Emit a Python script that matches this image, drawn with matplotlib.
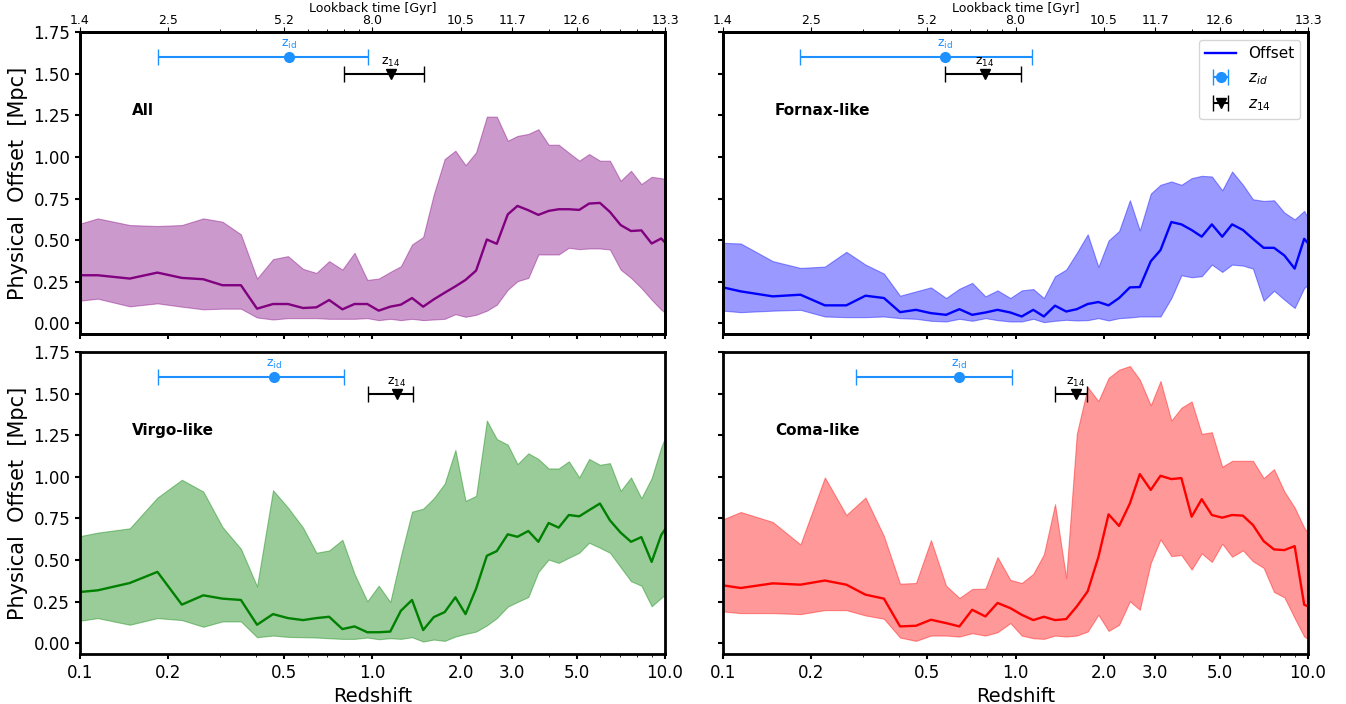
import numpy as np
import matplotlib
matplotlib.use("Agg")
import matplotlib.pyplot as plt
from matplotlib.ticker import FixedLocator, FixedFormatter, NullFormatter

# snapshot redshifts (shared by all panels)
redshift = [0.1, 0.115, 0.148, 0.184, 0.223, 0.264, 0.307, 0.355, 0.403, 0.457,
            0.514, 0.579, 0.643, 0.711, 0.789, 0.868, 0.96, 1.05, 1.15, 1.25,
            1.365, 1.49, 1.62, 1.765, 1.92, 2.08, 2.26, 2.46, 2.66, 2.9,
            3.13, 3.41, 3.69, 4.0, 4.33, 4.69, 5.09, 5.5, 5.99, 6.48,
            7.05, 7.65, 8.3, 9.0, 9.7, 10.6]

all_mid = [0.289, 0.289, 0.269, 0.305, 0.273, 0.265, 0.229, 0.229, 0.088, 0.116,
           0.116, 0.092, 0.096, 0.14, 0.084, 0.116, 0.116, 0.076, 0.10, 0.112,
           0.152, 0.10, 0.144, 0.184, 0.222, 0.261, 0.317, 0.504, 0.478, 0.655,
           0.706, 0.68, 0.652, 0.676, 0.686, 0.686, 0.682, 0.72, 0.724, 0.67,
           0.591, 0.555, 0.559, 0.48, 0.51, 0.44]
all_hi = [0.599, 0.631, 0.591, 0.585, 0.591, 0.631, 0.611, 0.535, 0.269, 0.386,
          0.404, 0.327, 0.303, 0.374, 0.323, 0.424, 0.261, 0.269, 0.309, 0.343,
          0.474, 0.519, 0.776, 0.988, 1.038, 0.951, 1.028, 1.243, 1.243, 1.098,
          1.127, 1.139, 1.167, 1.074, 1.074, 1.026, 0.978, 1.018, 0.978, 0.978,
          0.857, 0.917, 0.837, 0.881, 0.873, 0.86]
all_lo = [0.136, 0.148, 0.102, 0.12, 0.1, 0.084, 0.088, 0.088, 0.035, 0.023,
          0.031, 0.031, 0.031, 0.027, 0.027, 0.027, 0.031, 0.019, 0.027, 0.019,
          0.027, 0.019, 0.023, 0.027, 0.055, 0.039, 0.051, 0.076, 0.112, 0.202,
          0.253, 0.273, 0.414, 0.414, 0.414, 0.454, 0.446, 0.45, 0.45, 0.444,
          0.323, 0.273, 0.212, 0.142, 0.082, 0.03]

fornax_mid = [0.216, 0.192, 0.162, 0.172, 0.108, 0.108, 0.166, 0.152, 0.067, 0.081,
              0.061, 0.051, 0.085, 0.051, 0.065, 0.081, 0.065, 0.041, 0.081, 0.041,
              0.106, 0.071, 0.085, 0.116, 0.128, 0.108, 0.152, 0.216, 0.218, 0.373,
              0.44, 0.609, 0.595, 0.561, 0.521, 0.595, 0.521, 0.595, 0.561, 0.508,
              0.454, 0.454, 0.408, 0.329, 0.508, 0.43]
fornax_hi = [0.484, 0.48, 0.374, 0.333, 0.341, 0.43, 0.353, 0.299, 0.166, 0.192,
             0.216, 0.152, 0.208, 0.243, 0.162, 0.198, 0.152, 0.198, 0.206, 0.152,
             0.283, 0.323, 0.424, 0.535, 0.339, 0.498, 0.555, 0.74, 0.559, 0.78,
             0.833, 0.853, 0.833, 0.873, 0.887, 0.883, 0.8, 0.913, 0.833, 0.746,
             0.736, 0.74, 0.666, 0.625, 0.676, 0.55]
fornax_lo = [0.076, 0.067, 0.076, 0.081, 0.041, 0.037, 0.037, 0.041, 0.031, 0.027,
             0.015, 0.011, 0.027, 0.015, 0.031, 0.019, 0.011, 0.011, 0.027, 0.007,
             0.015, 0.021, 0.017, 0.019, 0.031, 0.017, 0.031, 0.035, 0.041, 0.041,
             0.041, 0.152, 0.289, 0.277, 0.283, 0.353, 0.309, 0.353, 0.347, 0.329,
             0.136, 0.196, 0.142, 0.092, 0.212, 0.27]

virgo_mid = [0.308, 0.318, 0.362, 0.429, 0.232, 0.288, 0.268, 0.26, 0.111, 0.175,
             0.151, 0.139, 0.151, 0.159, 0.085, 0.101, 0.066, 0.066, 0.07, 0.195,
             0.26, 0.079, 0.157, 0.187, 0.276, 0.175, 0.328, 0.526, 0.554, 0.655,
             0.64, 0.675, 0.61, 0.723, 0.695, 0.771, 0.763, 0.8, 0.84, 0.739,
             0.665, 0.61, 0.638, 0.489, 0.65, 0.75]
virgo_hi = [0.644, 0.665, 0.691, 0.876, 0.983, 0.912, 0.699, 0.568, 0.342, 0.92,
            0.816, 0.695, 0.544, 0.558, 0.622, 0.417, 0.252, 0.346, 0.248, 0.524,
            0.791, 0.809, 0.872, 0.96, 1.162, 0.856, 0.886, 1.339, 1.228, 1.194,
            1.077, 1.142, 1.108, 1.051, 1.051, 1.094, 0.997, 1.108, 1.073, 1.083,
            0.916, 0.997, 0.872, 0.993, 1.178, 1.35]
virgo_lo = [0.135, 0.151, 0.111, 0.151, 0.139, 0.099, 0.131, 0.131, 0.036, 0.046,
            0.038, 0.036, 0.034, 0.03, 0.026, 0.026, 0.034, 0.024, 0.03, 0.026,
            0.036, 0.01, 0.022, 0.014, 0.04, 0.056, 0.07, 0.107, 0.151, 0.22,
            0.248, 0.278, 0.429, 0.503, 0.483, 0.514, 0.544, 0.604, 0.574, 0.544,
            0.457, 0.373, 0.346, 0.222, 0.272, 0.33]

coma_mid = [0.348, 0.332, 0.36, 0.352, 0.377, 0.352, 0.292, 0.268, 0.101, 0.105,
            0.141, 0.121, 0.101, 0.201, 0.161, 0.242, 0.211, 0.171, 0.139, 0.159,
            0.139, 0.145, 0.221, 0.312, 0.518, 0.775, 0.705, 0.84, 1.017, 0.922,
            1.007, 0.987, 0.993, 0.761, 0.866, 0.771, 0.755, 0.771, 0.767, 0.711,
            0.614, 0.564, 0.56, 0.584, 0.232, 0.2]
coma_hi = [0.745, 0.789, 0.729, 0.594, 0.997, 0.771, 0.876, 0.644, 0.358, 0.362,
           0.62, 0.346, 0.272, 0.326, 0.328, 0.518, 0.381, 0.362, 0.417, 0.534,
           0.836, 0.393, 1.259, 1.54, 1.456, 1.595, 1.645, 1.667, 1.585, 1.43,
           1.577, 1.339, 1.416, 1.454, 1.259, 1.269, 1.061, 1.097, 1.097, 1.097,
           0.993, 1.047, 0.912, 0.816, 0.695, 0.6]
coma_lo = [0.191, 0.181, 0.181, 0.175, 0.199, 0.199, 0.167, 0.147, 0.034, 0.014,
           0.046, 0.046, 0.04, 0.06, 0.046, 0.066, 0.121, 0.046, 0.03, 0.026,
           0.046, 0.04, 0.046, 0.07, 0.171, 0.074, 0.111, 0.252, 0.201, 0.483,
           0.624, 0.524, 0.53, 0.443, 0.54, 0.489, 0.598, 0.52, 0.558, 0.493,
           0.453, 0.308, 0.276, 0.151, 0.04, 0.0]

# z_id / z_14 markers: (value, low, high)
z_id = {"All": (0.518, 0.185, 0.965), "Fornax-like": (0.576, 0.184, 1.14),
        "Virgo-like": (0.46, 0.185, 0.796), "Coma-like": (0.639, 0.285, 0.973)}
z_14 = {"All": (1.157, 0.796, 1.50), "Fornax-like": (0.786, 0.576, 1.042),
        "Virgo-like": (1.21, 0.965, 1.38), "Coma-like": (1.61, 1.364, 1.76)}

z_ticks = [0.1, 0.2, 0.5, 1.0, 2.0, 3.0, 5.0, 10.0]
z_tick_labels = ["0.1", "0.2", "0.5", "1.0", "2.0", "3.0", "5.0", "10.0"]
lookback_labels = ["1.4", "2.5", "5.2", "8.0", "10.5", "11.7", "12.6", "13.3"]

panels = [("All", all_mid, all_lo, all_hi, "purple"),
          ("Fornax-like", fornax_mid, fornax_lo, fornax_hi, "blue"),
          ("Virgo-like", virgo_mid, virgo_lo, virgo_hi, "green"),
          ("Coma-like", coma_mid, coma_lo, coma_hi, "red")]

fig, axes = plt.subplots(2, 2, figsize=(13.46, 7.04), dpi=100, sharex=True, sharey=True)
fig.subplots_adjust(left=0.0594, right=0.9718, top=0.9541, bottom=0.071,
                    wspace=0.099, hspace=0.06)

for i, (ax, (name, mid, lo, hi, color)) in enumerate(zip(axes.flat, panels)):
    ax.fill_between(redshift, lo, hi, color=color, alpha=0.4, linewidth=0.8)
    line, = ax.plot(redshift, mid, color=color, lw=1.7, label="Offset")

    v, a, b = z_id[name]
    eb1 = ax.errorbar(v, 1.6, xerr=[[v - a], [b - v]], fmt="o", color="dodgerblue",
                      ms=7, capsize=6, elinewidth=1.5, label=r"$z_{id}$")
    ax.text(v, 1.64, r"z$_{\rm id}$", color="dodgerblue", ha="center", va="bottom", fontsize=9)
    v, a, b = z_14[name]
    eb2 = ax.errorbar(v, 1.5, xerr=[[v - a], [b - v]], fmt="v", color="black",
                      ms=7, capsize=6, elinewidth=1.5, label=r"$z_{14}$")
    ax.text(v, 1.53, r"z$_{14}$", color="black", ha="center", va="bottom", fontsize=9)

    ax.text(0.089, 0.74, name, transform=ax.transAxes, fontsize=11,
            fontweight="bold", va="center", ha="left")

    ax.set_xscale("log")
    ax.set_xlim(0.1, 10)
    ax.set_ylim(-0.065, 1.75)
    ax.set_yticks(np.arange(0, 1.76, 0.25))
    ax.xaxis.set_major_locator(FixedLocator(z_ticks))
    ax.xaxis.set_major_formatter(FixedFormatter(z_tick_labels))
    ax.xaxis.set_minor_formatter(NullFormatter())
    ax.tick_params(labelsize=12, width=1.5)
    for sp in ax.spines.values():
        sp.set_linewidth(2)

    if i % 2 == 0:
        ax.set_ylabel("Physical  Offset  [Mpc]", fontsize=15)
    if i >= 2:
        ax.set_xlabel("Redshift", fontsize=14)
    else:
        top = ax.twiny()
        top.set_xscale("log")
        top.set_xlim(0.1, 10)
        top.xaxis.set_major_locator(FixedLocator(z_ticks))
        top.xaxis.set_major_formatter(FixedFormatter(lookback_labels))
        top.xaxis.set_minor_formatter(NullFormatter())
        top.tick_params(labelsize=9, pad=0.5)
        top.set_xlabel("Lookback time [Gyr]", fontsize=9, labelpad=1.5)
        for sp in top.spines.values():
            sp.set_linewidth(2)

    if name == "Fornax-like":
        ax.legend(handles=[line, eb1, eb2], loc="upper right", fontsize=11,
                  labelspacing=0.6)

fig.savefig("out.png", dpi=100)
